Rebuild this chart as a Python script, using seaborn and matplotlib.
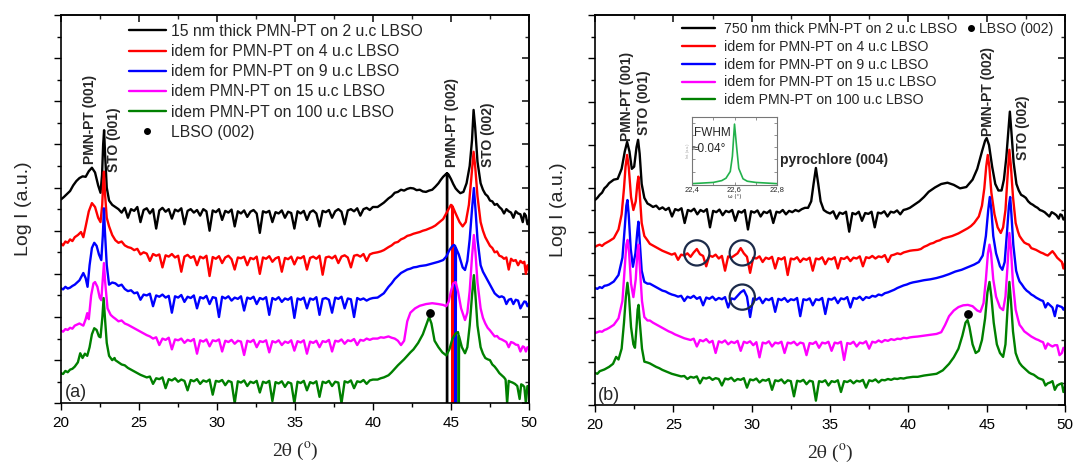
import numpy as np
import pandas as pd
import matplotlib
matplotlib.use("Agg")
import matplotlib.pyplot as plt
from matplotlib.lines import Line2D
import seaborn as sns

# ---------------- DATA (2theta in degrees, log-intensity with vertical offsets, a.u.) -------------
# Panel (a): 15 nm thick films. Each curve = peak-region points + baseline noise read over 23.5-40.0
a_black_head = [(20.0, 4.72), (20.2, 4.78), (20.4, 4.85), (20.6, 4.92), (20.8, 5.05), (21.0, 5.15),
                (21.2, 5.22), (21.4, 5.26), (21.6, 5.25), (21.8, 5.38), (22.0, 5.46), (22.2, 5.35),
                (22.4, 5.05), (22.55, 4.88), (22.65, 5.3), (22.72, 6.0), (22.78, 6.33), (22.84, 5.8),
                (22.95, 5.0), (23.1, 4.7), (23.3, 4.6)]
a_black_noise = [4.55, 4.5, 4.42, 4.53, 4.3, 4.5, 4.46, 4.55, 4.2, 4.48, 4.52, 4.4, 4.5, 4.05, 4.47,
                 4.53, 4.44, 4.5, 4.28, 4.49, 4.45, 4.52, 4.15, 4.46, 4.5, 4.42, 4.48, 4.35, 4.5, 4.45,
                 4.0, 4.47, 4.43, 4.5, 4.25, 4.46, 4.42, 4.49, 4.1, 4.45, 4.4, 4.47, 4.32, 4.44, 4.48,
                 4.4, 3.95, 4.45, 4.42, 4.46, 4.2, 4.43, 4.4, 4.47, 4.3, 4.44, 4.41, 4.05, 4.45, 4.4,
                 4.46, 4.25, 4.43, 4.47, 4.4, 4.1, 4.46, 4.43, 4.48, 4.3, 4.45, 4.5, 4.44, 4.15, 4.47,
                 4.5, 4.45, 4.52, 4.35, 4.5, 4.53, 4.48, 4.55]
a_black_tail = [(40.3, 4.55), (40.5, 4.6), (40.7, 4.65), (41.0, 4.75), (41.2, 4.8), (41.4, 4.88),
                (41.6, 4.9), (41.8, 4.95), (42.0, 4.93), (42.2, 4.97), (42.4, 4.99), (42.6, 4.98),
                (42.8, 4.94), (43.0, 4.95), (43.2, 4.91), (43.4, 4.9), (43.6, 4.93), (43.8, 4.95),
                (44.0, 5.02), (44.2, 5.1), (44.35, 5.18), (44.5, 5.25), (44.7, 5.32), (44.74, 5.33),
                (44.75, -1.0), (44.76, 5.33), (44.85, 5.3), (45.0, 5.2), (45.15, 5.08), (45.3, 4.98),
                (45.45, 4.92), (45.6, 4.87), (45.8, 4.9), (46.0, 5.1), (46.2, 5.5), (46.35, 6.1),
                (46.45, 6.8), (46.55, 6.4), (46.7, 5.6), (46.9, 5.1), (47.05, 4.95), (47.2, 4.85),
                (47.35, 4.8), (47.5, 4.7), (47.65, 4.68), (47.8, 4.6), (47.95, 4.62), (48.1, 4.55),
                (48.25, 4.5), (48.4, 4.4), (48.55, 4.5), (48.7, 4.45), (48.85, 4.42), (49.0, 4.3),
                (49.15, 4.45), (49.3, 4.4), (49.45, 4.38), (49.6, 4.2), (49.7, 4.4), (49.8, 4.35),
                (49.9, 4.15), (50.0, 4.25)]

a_red_head = [(20.0, 3.71), (20.15, 3.66), (20.3, 3.75), (20.45, 3.72), (20.6, 3.8), (20.75, 3.76),
              (20.9, 3.85), (21.1, 3.9), (21.3, 3.97), (21.45, 3.85), (21.6, 4.1), (21.8, 4.45),
              (22.0, 4.64), (22.2, 4.55), (22.4, 4.3), (22.55, 4.2), (22.66, 4.6), (22.72, 5.1),
              (22.77, 5.37), (22.83, 4.9), (22.95, 4.3), (23.1, 4.1), (23.3, 3.9)]
a_red_noise = [3.78, 3.72, 3.75, 3.66, 3.62, 3.6, 3.55, 3.58, 3.45, 3.5, 3.47, 3.3, 3.46, 3.42, 3.45,
               3.15, 3.43, 3.4, 3.46, 3.38, 3.42, 3.05, 3.4, 3.44, 3.37, 3.41, 3.2, 3.4, 3.36, 3.42,
               2.95, 3.39, 3.35, 3.41, 3.25, 3.38, 3.42, 3.34, 3.1, 3.38, 3.36, 3.4, 3.2, 3.37, 3.34,
               3.4, 3.0, 3.38, 3.35, 3.41, 3.28, 3.36, 3.39, 3.05, 3.37, 3.34, 3.4, 3.22, 3.38, 3.36,
               3.41, 3.1, 3.37, 3.4, 3.35, 3.42, 2.98, 3.38, 3.4, 3.36, 3.42, 3.25, 3.4, 3.43, 3.38,
               3.15, 3.42, 3.44, 3.4, 3.46, 3.3, 3.45, 3.48]
a_red_tail = [(40.3, 3.5), (40.5, 3.52), (40.7, 3.55), (41.0, 3.62), (41.2, 3.66), (41.4, 3.72),
              (41.6, 3.74), (41.8, 3.8), (42.0, 3.83), (42.2, 3.88), (42.4, 3.9), (42.6, 3.93),
              (42.8, 3.95), (43.0, 3.97), (43.2, 4.0), (43.4, 4.02), (43.6, 4.05), (43.8, 4.08),
              (44.0, 4.12), (44.2, 4.18), (44.5, 4.27), (44.7, 4.4), (44.85, 4.5), (45.0, 4.6),
              (45.08, 4.58), (45.1, -1.0), (45.12, 4.55), (45.3, 4.4), (45.55, 4.2), (45.75, 4.1),
              (45.95, 4.2), (46.15, 4.6), (46.3, 5.2), (46.45, 5.83), (46.55, 5.5), (46.7, 4.8),
              (46.9, 4.2), (47.05, 4.0), (47.2, 3.85), (47.35, 3.75), (47.5, 3.65), (47.65, 3.6),
              (47.8, 3.5), (47.95, 3.52), (48.1, 3.42), (48.25, 3.4), (48.4, 3.35), (48.55, 3.38),
              (48.7, 3.1), (48.85, 3.35), (49.0, 3.3), (49.15, 3.32), (49.3, 3.2), (49.45, 3.3),
              (49.6, 3.25), (49.7, 3.28), (49.8, 3.0), (49.9, 3.2), (50.0, 3.09)]

a_blue_head = [(20.0, 2.67), (20.15, 2.64), (20.3, 2.7), (20.45, 2.66), (20.6, 2.68), (20.75, 2.72),
               (20.9, 2.75), (21.2, 2.85), (21.45, 3.02), (21.6, 2.9), (21.72, 2.7), (21.85, 3.2),
               (22.0, 3.6), (22.15, 3.72), (22.3, 3.65), (22.45, 3.45), (22.6, 3.32), (22.7, 3.9),
               (22.77, 4.52), (22.83, 4.0), (22.95, 3.2), (23.1, 2.75), (23.3, 2.8)]
a_blue_noise = [2.78, 2.72, 2.75, 2.65, 2.6, 2.62, 2.55, 2.57, 2.4, 2.52, 2.5, 2.54, 2.25, 2.5, 2.47,
                2.52, 2.45, 2.49, 2.1, 2.48, 2.45, 2.51, 2.35, 2.47, 2.44, 2.5, 2.2, 2.46, 2.43, 2.49,
                2.3, 2.46, 2.44, 2.0, 2.47, 2.43, 2.48, 2.38, 2.45, 2.42, 2.48, 2.15, 2.45, 2.42,
                2.47, 2.3, 2.44, 2.41, 2.46, 2.05, 2.44, 2.4, 2.46, 2.35, 2.43, 2.4, 2.46, 1.98, 2.43,
                2.4, 2.45, 2.2, 2.43, 2.4, 2.46, 2.05, 2.42, 2.44, 2.4, 2.1, 2.45, 2.42, 2.47, 2.2,
                2.43, 2.41, 2.0, 2.44, 2.4, 2.43, 2.38, 2.42, 2.44]
a_blue_tail = [(40.3, 2.45), (40.5, 2.5), (40.7, 2.55), (41.0, 2.7), (41.2, 2.78), (41.4, 2.88),
               (41.6, 2.95), (41.8, 3.02), (42.0, 3.06), (42.2, 3.1), (42.4, 3.12), (42.6, 3.15),
               (42.8, 3.16), (43.0, 3.18), (43.2, 3.19), (43.4, 3.2), (43.6, 3.22), (43.8, 3.24),
               (44.0, 3.26), (44.2, 3.28), (44.5, 3.32), (44.7, 3.4), (44.9, 3.55), (45.1, 3.65),
               (45.2, 3.67), (45.28, 3.64), (45.3, -1.0), (45.32, 3.6), (45.5, 3.45), (45.75, 3.15),
               (45.9, 3.09), (46.05, 3.3), (46.2, 3.8), (46.35, 4.5), (46.47, 4.99), (46.57, 4.5),
               (46.7, 3.8), (46.9, 3.2), (47.05, 3.05), (47.2, 2.95), (47.35, 2.85), (47.5, 2.75),
               (47.65, 2.65), (47.8, 2.55), (47.95, 2.5), (48.1, 2.46), (48.25, 2.48), (48.4, 2.45),
               (48.55, 2.3), (48.7, 2.4), (48.85, 2.42), (49.0, 2.3), (49.15, 2.4), (49.3, 2.38),
               (49.45, 2.2), (49.6, 2.3), (49.7, 2.36), (49.8, 2.35), (49.9, 2.25), (50.0, 2.32)]

a_mag_head = [(20.0, 1.69), (20.15, 1.66), (20.3, 1.72), (20.45, 1.7), (20.6, 1.75), (20.75, 1.73),
              (20.9, 1.8), (21.2, 1.85), (21.45, 1.8), (21.6, 1.95), (21.7, 2.09), (21.8, 1.95),
              (21.95, 2.5), (22.1, 2.78), (22.2, 2.81), (22.35, 2.7), (22.5, 2.45), (22.6, 2.39),
              (22.7, 2.9), (22.77, 3.25), (22.85, 2.8), (23.0, 2.2), (23.2, 2.05), (23.35, 2.0)]
a_mag_noise = [1.96, 1.9, 1.92, 1.85, 1.82, 1.78, 1.74, 1.7, 1.66, 1.62, 1.58, 1.55, 1.5, 1.53, 1.35,
               1.5, 1.47, 1.52, 1.25, 1.48, 1.46, 1.5, 1.4, 1.47, 1.44, 1.49, 1.15, 1.46, 1.43, 1.48,
               1.32, 1.46, 1.44, 1.48, 1.2, 1.45, 1.42, 1.47, 1.38, 1.45, 1.43, 1.12, 1.45, 1.42,
               1.47, 1.3, 1.44, 1.42, 1.46, 1.18, 1.44, 1.41, 1.46, 1.35, 1.43, 1.4, 1.46, 1.22,
               1.44, 1.41, 1.46, 1.15, 1.43, 1.4, 1.45, 1.3, 1.44, 1.42, 1.47, 1.2, 1.45, 1.43, 1.48,
               1.38, 1.46, 1.44, 1.49, 1.35, 1.47, 1.45, 1.5, 1.47, 1.5]
a_mag_tail = [(40.3, 1.5), (40.5, 1.53), (40.7, 1.52), (41.0, 1.55), (41.2, 1.52), (41.4, 1.5),
              (41.6, 1.45), (41.8, 1.35), (42.0, 1.45), (42.2, 1.9), (42.4, 2.1), (42.7, 2.2),
              (43.0, 2.26), (43.4, 2.3), (43.8, 2.32), (44.2, 2.3), (44.5, 2.28), (44.7, 2.25),
              (44.85, 2.35), (45.0, 2.6), (45.15, 2.78), (45.3, 2.81), (45.45, 2.6), (45.65, 2.2),
              (45.9, 1.93), (46.05, 2.1), (46.2, 2.6), (46.35, 3.4), (46.47, 3.9), (46.57, 3.5),
              (46.7, 2.8), (46.9, 2.2), (47.05, 1.98), (47.2, 1.85), (47.35, 1.75), (47.5, 1.69),
              (47.65, 1.62), (47.8, 1.55), (47.95, 1.56), (48.1, 1.5), (48.25, 1.48), (48.4, 1.45),
              (48.55, 1.42), (48.7, 1.3), (48.85, 1.42), (49.0, 1.4), (49.15, 1.36), (49.3, 1.35),
              (49.45, 1.2), (49.6, 1.32), (49.7, 1.3), (49.8, 1.2), (49.9, 1.3), (50.0, 1.28)]

a_green_head = [(20.0, 0.7), (20.15, 0.68), (20.3, 0.75), (20.45, 0.72), (20.6, 0.78), (20.75, 0.8),
                (20.9, 0.85), (21.1, 0.95), (21.25, 1.16), (21.4, 1.05), (21.55, 1.15), (21.7, 1.1),
                (21.85, 1.3), (22.0, 1.6), (22.15, 1.74), (22.3, 1.7), (22.45, 1.55), (22.55, 1.53),
                (22.67, 2.0), (22.75, 2.44), (22.83, 2.0), (22.95, 1.4), (23.1, 1.1), (23.3, 1.0),
                (23.45, 1.05)]
a_green_noise = [1.0, 0.95, 0.9, 0.88, 0.82, 0.78, 0.74, 0.7, 0.66, 0.63, 0.6, 0.62, 0.45, 0.58, 0.56,
                 0.6, 0.35, 0.56, 0.53, 0.58, 0.5, 0.55, 0.52, 0.3, 0.54, 0.51, 0.56, 0.45, 0.53, 0.5,
                 0.55, 0.2, 0.52, 0.5, 0.54, 0.42, 0.52, 0.49, 0.0, 0.51, 0.48, 0.53, 0.4, 0.5, 0.47,
                 0.52, 0.25, 0.5, 0.47, 0.52, 0.05, 0.49, 0.46, 0.51, 0.38, 0.49, 0.46, 0.0, 0.5,
                 0.47, 0.52, 0.3, 0.49, 0.46, 0.51, 0.15, 0.5, 0.47, 0.52, 0.4, 0.5, 0.48, 0.0, 0.51,
                 0.48, 0.53, 0.35, 0.51, 0.49, 0.54, 0.45, 0.53, 0.55]
a_green_tail = [(40.3, 0.55), (40.5, 0.58), (40.7, 0.6), (41.0, 0.65), (41.2, 0.72), (41.4, 0.8),
                (41.6, 0.88), (41.8, 0.95), (42.0, 1.02), (42.2, 1.1), (42.4, 1.18), (42.6, 1.25),
                (42.9, 1.4), (43.2, 1.6), (43.45, 1.85), (43.6, 2.0), (43.75, 1.85), (43.95, 1.45),
                (44.2, 1.3), (44.45, 1.18), (44.7, 1.11), (44.9, 1.25), (45.1, 1.5), (45.3, 1.62),
                (45.45, 1.65), (45.48, 1.6), (45.5, -1.0), (45.52, 1.55), (45.7, 1.3), (45.9, 1.16),
                (46.05, 1.3), (46.2, 1.8), (46.35, 2.5), (46.47, 2.97), (46.57, 2.5), (46.7, 1.8),
                (46.9, 1.3), (47.05, 1.15), (47.2, 1.05), (47.35, 1.02), (47.5, 1.0), (47.65, 0.9),
                (47.8, 0.85), (47.95, 0.78), (48.1, 0.7), (48.25, 0.65), (48.4, 0.6), (48.5, 0.55),
                (48.6, 0.0), (48.7, 0.52), (48.8, 0.5), (48.95, 0.48), (49.1, 0.45), (49.25, 0.4),
                (49.4, 0.1), (49.5, 0.44), (49.6, 0.42), (49.7, 0.38), (49.8, 0.0), (49.9, 0.4),
                (50.0, 0.37)]
a_noise_range = (23.5, 40.0)
a_lbso_dot = (43.65, 2.1)

# Panel (b): 750 nm thick films. Baseline noise read over 23.5-40.3
b_black_head = [(20.0, 4.73), (20.15, 4.78), (20.3, 4.85), (20.45, 4.9), (20.6, 5.0), (20.75, 5.05),
                (20.9, 5.12), (21.2, 5.2), (21.45, 5.22), (21.7, 5.45), (21.9, 5.85), (22.05, 6.07),
                (22.2, 5.85), (22.35, 5.45), (22.5, 5.5), (22.65, 5.95), (22.75, 6.12), (22.85, 5.8),
                (22.98, 5.1), (23.15, 4.78), (23.35, 4.65)]
b_black_noise1 = [4.62, 4.57, 4.6, 4.52, 4.56, 4.5, 4.55, 4.35, 4.52, 4.49, 4.54, 4.2, 4.5, 4.47,
                  4.53, 4.4, 4.5, 4.46, 4.52, 4.1, 4.48, 4.45, 4.51, 4.38, 4.48, 4.45, 4.5, 4.25,
                  4.47, 4.44, 4.5, 4.05, 4.47, 4.44, 4.49, 4.35, 4.46, 4.43, 4.49, 4.2, 4.46, 4.44,
                  4.5, 4.4, 4.48, 4.45, 4.5, 4.47, 4.52, 4.55]
b_black_pyro = [(33.6, 4.55), (33.8, 4.7), (33.95, 5.1), (34.1, 5.47), (34.25, 5.1), (34.4, 4.7),
                (34.6, 4.5)]
b_black_noise2 = [4.45, 4.42, 4.47, 4.3, 4.44, 4.41, 4.46, 4.0, 4.43, 4.4, 4.46, 4.25, 4.43, 4.41,
                  4.46, 4.1, 4.44, 4.42, 4.47, 4.35, 4.46, 4.44, 4.49, 4.4, 4.5, 4.52, 4.55, 4.6]
b_black_tail = [(40.5, 4.65), (40.7, 4.7), (41.0, 4.8), (41.3, 4.92), (41.7, 5.02), (42.1, 5.1),
                (42.5, 5.13), (42.9, 5.08), (43.3, 5.0), (43.7, 5.03), (44.1, 5.2), (44.4, 5.45),
                (44.7, 5.85), (44.9, 6.1), (45.0, 6.16), (45.15, 6.0), (45.35, 5.5), (45.55, 5.1),
                (45.75, 4.95), (45.95, 4.95), (46.1, 5.2), (46.25, 5.7), (46.38, 6.3), (46.48, 6.77),
                (46.58, 6.3), (46.72, 5.6), (46.9, 5.1), (47.05, 4.95), (47.2, 4.85), (47.35, 4.82),
                (47.5, 4.78), (47.65, 4.7), (47.8, 4.65), (47.95, 4.62), (48.1, 4.58), (48.25, 4.55),
                (48.4, 4.5), (48.55, 4.48), (48.7, 4.45), (48.85, 4.4), (49.0, 4.35), (49.15, 4.45),
                (49.3, 4.42), (49.45, 4.38), (49.6, 4.3), (49.7, 4.4), (49.8, 4.38), (49.9, 4.28),
                (50.0, 4.32)]

b_red_head = [(20.0, 3.65), (20.15, 3.68), (20.3, 3.7), (20.45, 3.67), (20.6, 3.72), (20.75, 3.75),
              (20.9, 3.78), (21.2, 3.85), (21.5, 4.05), (21.7, 4.4), (21.85, 5.0), (21.95, 5.5),
              (22.05, 5.77), (22.15, 5.5), (22.3, 4.8), (22.45, 4.5), (22.6, 4.7), (22.7, 5.1),
              (22.77, 5.27), (22.85, 4.9), (22.98, 4.2), (23.15, 3.9), (23.35, 3.8)]
b_red_noise = [3.72, 3.68, 3.64, 3.6, 3.56, 3.53, 3.5, 3.47, 3.5, 3.35, 3.47, 3.45, 3.5, 3.42, 3.52,
               3.6, 3.48, 3.44, 3.2, 3.45, 3.42, 3.47, 3.38, 3.44, 3.1, 3.43, 3.4, 3.45, 3.5, 3.62,
               3.5, 3.42, 3.05, 3.4, 3.38, 3.43, 3.3, 3.4, 3.37, 3.42, 3.15, 3.39, 3.36, 3.41, 3.0,
               3.38, 3.36, 3.41, 3.3, 3.38, 3.35, 3.4, 3.1, 3.38, 3.36, 3.41, 3.25, 3.38, 3.36, 3.41,
               3.15, 3.39, 3.37, 3.42, 3.32, 3.4, 3.38, 3.43, 3.2, 3.41, 3.39, 3.44, 3.38, 3.43, 3.41,
               3.46, 3.3, 3.45, 3.47, 3.5, 3.48, 3.52, 3.54, 3.56, 3.57]
b_red_tail = [(40.6, 3.58), (40.8, 3.6), (41.0, 3.65), (41.2, 3.68), (41.4, 3.72), (41.6, 3.74),
              (41.8, 3.78), (42.0, 3.8), (42.2, 3.84), (42.4, 3.86), (42.6, 3.88), (42.8, 3.9),
              (43.0, 3.93), (43.2, 3.96), (43.4, 4.0), (43.6, 4.04), (43.8, 4.08), (44.0, 4.13),
              (44.2, 4.2), (44.5, 4.35), (44.7, 4.6), (44.85, 5.0), (44.97, 5.5), (45.07, 5.77),
              (45.17, 5.5), (45.3, 4.9), (45.5, 4.4), (45.7, 4.1), (45.9, 3.97), (46.05, 4.1),
              (46.2, 4.5), (46.32, 5.2), (46.45, 5.89), (46.55, 5.5), (46.68, 4.8), (46.85, 4.2),
              (47.0, 4.0), (47.1, 3.9), (47.25, 3.82), (47.4, 3.75), (47.55, 3.72), (47.7, 3.7),
              (47.85, 3.62), (48.0, 3.6), (48.15, 3.58), (48.3, 3.55), (48.45, 3.52), (48.6, 3.5),
              (48.75, 3.47), (48.9, 3.45), (49.05, 3.5), (49.2, 3.55), (49.35, 3.48), (49.5, 3.4),
              (49.65, 3.35), (49.8, 3.3), (49.9, 3.15), (50.0, 3.28)]

b_blue_head = [(20.0, 2.7), (20.15, 2.68), (20.3, 2.72), (20.45, 2.7), (20.6, 2.75), (20.75, 2.76),
               (20.9, 2.78), (21.2, 2.85), (21.5, 3.0), (21.75, 3.4), (21.9, 4.1), (22.0, 4.6),
               (22.07, 4.73), (22.15, 4.4), (22.28, 3.6), (22.42, 3.19), (22.58, 3.5), (22.7, 4.0),
               (22.77, 4.23), (22.85, 3.8), (22.98, 3.1), (23.15, 2.84), (23.35, 2.8)]
b_blue_noise = [2.8, 2.76, 2.72, 2.68, 2.64, 2.62, 2.58, 2.55, 2.53, 2.5, 2.52, 2.4, 2.5, 2.47, 2.52,
                2.45, 2.49, 2.3, 2.48, 2.45, 2.5, 2.42, 2.47, 2.44, 2.49, 2.25, 2.46, 2.44, 2.52, 2.6,
                2.65, 2.5, 2.03, 2.46, 2.43, 2.48, 2.35, 2.45, 2.42, 2.47, 2.15, 2.45, 2.42, 2.47,
                2.38, 2.44, 2.42, 2.47, 2.05, 2.44, 2.42, 2.46, 2.3, 2.44, 2.42, 2.47, 2.1, 2.45,
                2.43, 2.48, 2.35, 2.46, 2.44, 2.49, 2.25, 2.47, 2.45, 2.5, 2.42, 2.49, 2.47, 2.52,
                2.5, 2.55, 2.53, 2.58, 2.6, 2.63, 2.66, 2.7, 2.73, 2.76, 2.78, 2.81, 2.83]
b_blue_tail = [(40.6, 2.85), (41.0, 2.88), (41.4, 2.9), (41.8, 2.93), (42.2, 2.97), (42.6, 3.02),
               (43.0, 3.08), (43.4, 3.12), (43.8, 3.18), (44.2, 3.24), (44.5, 3.3), (44.75, 3.45),
               (44.95, 3.9), (45.1, 4.5), (45.2, 4.8), (45.3, 4.5), (45.42, 3.9), (45.6, 3.5),
               (45.85, 3.2), (46.0, 3.12), (46.15, 3.3), (46.3, 4.0), (46.42, 4.6), (46.5, 4.8),
               (46.58, 4.4), (46.7, 3.7), (46.88, 3.1), (47.0, 2.95), (47.1, 2.85), (47.25, 2.78),
               (47.4, 2.7), (47.55, 2.64), (47.7, 2.6), (47.85, 2.55), (48.0, 2.52), (48.15, 2.48),
               (48.3, 2.45), (48.45, 2.42), (48.6, 2.4), (48.75, 2.25), (48.9, 2.35), (49.05, 2.3),
               (49.2, 2.25), (49.35, 2.05), (49.5, 2.3), (49.65, 2.28), (49.8, 2.26), (49.9, 2.2),
               (50.0, 2.26)]

b_mag_head = [(20.0, 1.66), (20.15, 1.68), (20.3, 1.7), (20.45, 1.69), (20.6, 1.73), (20.75, 1.75),
              (20.9, 1.78), (21.2, 1.85), (21.5, 2.0), (21.75, 2.4), (21.9, 3.2), (22.0, 3.7),
              (22.08, 3.81), (22.18, 3.5), (22.3, 2.8), (22.45, 2.49), (22.6, 2.9), (22.7, 3.5),
              (22.77, 3.7), (22.86, 3.2), (23.0, 2.4), (23.15, 2.03), (23.35, 1.95)]
b_mag_noise = [1.95, 1.9, 1.86, 1.82, 1.78, 1.74, 1.7, 1.67, 1.63, 1.6, 1.57, 1.54, 1.52, 1.5, 1.53,
               1.35, 1.5, 1.47, 1.52, 1.44, 1.48, 1.2, 1.47, 1.44, 1.49, 1.4, 1.46, 1.43, 1.48, 1.25,
               1.46, 1.43, 1.47, 1.38, 1.45, 1.1, 1.44, 1.42, 1.47, 1.35, 1.44, 1.42, 1.46, 1.2,
               1.44, 1.42, 1.46, 1.38, 1.44, 1.42, 1.15, 1.43, 1.41, 1.46, 1.32, 1.44, 1.42, 1.46,
               1.25, 1.44, 1.42, 1.46, 1.04, 1.43, 1.41, 1.46, 1.35, 1.44, 1.42, 1.47, 1.3, 1.46,
               1.44, 1.49, 1.45, 1.5, 1.48, 1.52, 1.5, 1.53, 1.52, 1.55, 1.54, 1.56, 1.57]
b_mag_tail = [(40.6, 1.58), (41.0, 1.6), (41.4, 1.62), (41.8, 1.64), (42.1, 1.68), (42.35, 1.85),
              (42.6, 2.05), (42.9, 2.18), (43.2, 2.26), (43.5, 2.3), (43.8, 2.31), (44.1, 2.28),
              (44.4, 2.18), (44.6, 2.15), (44.8, 2.35), (44.95, 2.9), (45.08, 3.5), (45.18, 3.7),
              (45.28, 3.5), (45.42, 2.9), (45.6, 2.5), (45.85, 2.25), (46.05, 2.19), (46.2, 2.5),
              (46.33, 3.2), (46.45, 3.97), (46.55, 3.6), (46.68, 2.8), (46.85, 2.2), (47.0, 1.98),
              (47.1, 1.85), (47.25, 1.78), (47.4, 1.7), (47.55, 1.66), (47.7, 1.62), (47.85, 1.58),
              (48.0, 1.55), (48.15, 1.52), (48.3, 1.5), (48.45, 1.47), (48.6, 1.45), (48.75, 1.3),
              (48.9, 1.42), (49.05, 1.38), (49.2, 1.35), (49.35, 1.38), (49.5, 1.38), (49.65, 1.15),
              (49.8, 1.2), (49.9, 1.32), (50.0, 1.27)]

b_green_head = [(20.0, 0.74), (20.15, 0.72), (20.3, 0.78), (20.45, 0.8), (20.6, 0.82), (20.75, 0.85),
                (20.9, 0.88), (21.15, 0.95), (21.35, 1.11), (21.5, 1.05), (21.7, 1.3), (21.85, 1.9),
                (21.97, 2.5), (22.07, 2.82), (22.17, 2.5), (22.3, 1.8), (22.45, 1.4), (22.55, 1.32),
                (22.65, 1.8), (22.72, 2.2), (22.78, 2.31), (22.86, 1.9), (23.0, 1.3), (23.15, 1.0),
                (23.35, 0.98)]
b_green_noise = [0.96, 0.92, 0.88, 0.85, 0.81, 0.78, 0.75, 0.72, 0.7, 0.68, 0.66, 0.67, 0.6, 0.65,
                 0.63, 0.66, 0.5, 0.63, 0.61, 0.64, 0.58, 0.62, 0.6, 0.45, 0.61, 0.59, 0.63, 0.55,
                 0.6, 0.58, 0.62, 0.4, 0.59, 0.57, 0.61, 0.52, 0.58, 0.56, 0.6, 0.35, 0.57, 0.55,
                 0.59, 0.5, 0.57, 0.55, 0.2, 0.56, 0.54, 0.58, 0.48, 0.56, 0.54, 0.1, 0.55, 0.53,
                 0.57, 0.45, 0.55, 0.53, 0.57, 0.3, 0.55, 0.53, 0.57, 0.5, 0.56, 0.54, 0.58, 0.4,
                 0.57, 0.55, 0.59, 0.52, 0.58, 0.57, 0.6, 0.58, 0.61, 0.6, 0.62, 0.61, 0.63, 0.64,
                 0.65]
b_green_tail = [(40.6, 0.65), (41.0, 0.68), (41.4, 0.7), (41.8, 0.72), (42.2, 0.8), (42.6, 0.95),
                (42.9, 1.1), (43.2, 1.3), (43.45, 1.6), (43.65, 1.9), (43.78, 1.96), (43.9, 1.8),
                (44.1, 1.4), (44.3, 1.2), (44.5, 1.25), (44.7, 1.5), (44.9, 2.0), (45.05, 2.6),
                (45.18, 2.84), (45.3, 2.5), (45.45, 1.9), (45.65, 1.4), (45.85, 1.2), (46.05, 1.11),
                (46.2, 1.4), (46.33, 2.2), (46.45, 2.84), (46.55, 2.4), (46.68, 1.7), (46.85, 1.2),
                (47.0, 1.05), (47.1, 0.97), (47.25, 0.9), (47.4, 0.85), (47.55, 0.8), (47.7, 0.75),
                (47.85, 0.72), (48.0, 0.7), (48.15, 0.66), (48.3, 0.62), (48.45, 0.6), (48.6, 0.58),
                (48.75, 0.45), (48.9, 0.5), (49.05, 0.52), (49.2, 0.55), (49.35, 0.35), (49.5, 0.45),
                (49.65, 0.48), (49.8, 0.5), (49.9, 0.3), (50.0, 0.42)]
b_noise_range = (23.5, 40.3)
b_lbso_dot = (43.8, 2.1)
b_circles_x = [26.5, 29.4, 29.4]
b_circles_y = [3.51, 3.51, 2.49]

# Inset (omega rocking curve)
inset_omega = [22.40, 22.45, 22.50, 22.54, 22.56, 22.58, 22.59, 22.60, 22.61, 22.62, 22.64, 22.66,
               22.70, 22.75, 22.80]
inset_int = [0.0, 0.01, 0.02, 0.05, 0.09, 0.2, 0.45, 0.98, 0.6, 0.25, 0.08, 0.04, 0.02, 0.01, 0.0]
inset_ticks = [22.4, 22.6, 22.8]
inset_ticklabels = ["22,4", "22,6", "22,8"]

colors = ["#000000", "#ff0000", "#0000ff", "#ff00ff", "#008000"]
labels_a = ["15 nm thick PMN-PT on 2 u.c LBSO", "idem for PMN-PT on 4 u.c LBSO",
            "idem for PMN-PT on 9 u.c LBSO", "idem PMN-PT on 15 u.c LBSO",
            "idem PMN-PT on 100 u.c LBSO"]
labels_b = ["750 nm thick PMN-PT on 2 u.c LBSO", "idem for PMN-PT on 4 u.c LBSO",
            "idem for PMN-PT on 9 u.c LBSO", "idem for PMN-PT on 15 u.c LBSO",
            "idem PMN-PT on 100 u.c LBSO"]
xticks = [20, 25, 30, 35, 40, 45, 50]


def build(segments):
    """segments: list of ('pts', [(x,y),...]) or ('noise', values, (x0, x1))"""
    xs, ys = [], []
    for seg in segments:
        if seg[0] == "pts":
            xs += [p[0] for p in seg[1]]
            ys += [p[1] for p in seg[1]]
        else:
            vals, (x0, x1) = seg[1], seg[2]
            xs += list(np.linspace(x0, x1, len(vals)))
            ys += list(vals)
    df = pd.DataFrame({"tt": xs, "I": ys})
    return df.sort_values("tt", kind="stable").reset_index(drop=True)


curves_a = [
    build([("pts", a_black_head), ("noise", a_black_noise, a_noise_range), ("pts", a_black_tail)]),
    build([("pts", a_red_head), ("noise", a_red_noise, a_noise_range), ("pts", a_red_tail)]),
    build([("pts", a_blue_head), ("noise", a_blue_noise, a_noise_range), ("pts", a_blue_tail)]),
    build([("pts", a_mag_head), ("noise", a_mag_noise, a_noise_range), ("pts", a_mag_tail)]),
    build([("pts", a_green_head), ("noise", a_green_noise, a_noise_range), ("pts", a_green_tail)]),
]
curves_b = [
    build([("pts", b_black_head), ("noise", b_black_noise1, (23.5, 33.4)), ("pts", b_black_pyro),
           ("noise", b_black_noise2, (34.8, 40.3)), ("pts", b_black_tail)]),
    build([("pts", b_red_head), ("noise", b_red_noise, b_noise_range), ("pts", b_red_tail)]),
    build([("pts", b_blue_head), ("noise", b_blue_noise, b_noise_range), ("pts", b_blue_tail)]),
    build([("pts", b_mag_head), ("noise", b_mag_noise, b_noise_range), ("pts", b_mag_tail)]),
    build([("pts", b_green_head), ("noise", b_green_noise, b_noise_range), ("pts", b_green_tail)]),
]

# ---------------- STYLE -------------
sns.set_theme(style="ticks")
plt.rcParams["font.family"] = ["Liberation Sans", "DejaVu Sans"]
plt.rcParams["mathtext.fontset"] = "stix"
plt.rcParams["axes.linewidth"] = 1.2

fig = plt.figure(figsize=(10.74, 4.69), dpi=100)
ax_a = fig.add_axes([60.7 / 1074, 1 - 403.3 / 469, 468.3 / 1074, 388.3 / 469])
ax_b = fig.add_axes([595 / 1074, 1 - 405 / 469, 470 / 1074, 390 / 469])


def style_axes(ax):
    ax.set_xlim(20, 50)
    ax.set_ylim(0, 9)
    ax.set_xticks(xticks)
    ax.set_xticks(np.arange(20, 50.1, 2.5), minor=True)
    ax.set_yticks(np.arange(0, 9.1, 1))
    ax.set_yticks(np.arange(0, 9.1, 0.5), minor=True)
    ax.set_yticklabels([])
    for sp in ax.spines.values():
        sp.set_visible(True)
        sp.set_color("black")
        sp.set_linewidth(1.2)
    ax.tick_params(axis="both", which="both", color="black", width=1.0)
    ax.tick_params(axis="x", which="both", direction="out", bottom=True, top=False)
    ax.tick_params(axis="y", which="both", direction="out", left=True, right=False)
    ax.tick_params(which="major", length=5)
    ax.tick_params(which="minor", length=3)
    ax.tick_params(axis="x", labelsize=11, pad=4, labelcolor="black")
    sec = ax.secondary_xaxis("top")
    sec.set_xticks(xticks)
    sec.set_xticks(np.arange(20, 50.1, 2.5), minor=True)
    sec.tick_params(which="both", direction="in", labeltop=False)
    sec.tick_params(which="major", length=5)
    sec.tick_params(which="minor", length=3)
    sec.spines["top"].set_linewidth(1.2)
    sec2 = ax.secondary_yaxis("right")
    sec2.set_yticks(np.arange(0, 9.1, 1))
    sec2.set_yticks(np.arange(0, 9.1, 0.5), minor=True)
    sec2.tick_params(which="both", direction="in", labelright=False)
    sec2.tick_params(which="major", length=5)
    sec2.tick_params(which="minor", length=3)
    ax.set_xlabel(r"2$\mathrm{\theta}$ ($^{\mathrm{o}}$)", fontsize=14, family="Liberation Serif",
                  labelpad=8)
    ax.set_ylabel("Log I (a.u.)", fontsize=14, labelpad=12)
    ax.grid(False)


for ax, curves in ((ax_a, curves_a), (ax_b, curves_b)):
    for df, c in zip(curves, colors):
        sns.lineplot(data=df, x="tt", y="I", ax=ax, color=c, lw=1.7, sort=False,
                     estimator=None, legend=False)
    style_axes(ax)

# LBSO (002) dots
ax_a.scatter([a_lbso_dot[0]], [a_lbso_dot[1]], s=28, color="black", zorder=5)
ax_b.scatter([b_lbso_dot[0]], [b_lbso_dot[1]], s=28, color="black", zorder=5)

# circles in (b)
ax_b.scatter(b_circles_x, b_circles_y, s=330, facecolors="none", edgecolors="#1c2b4a",
             linewidths=1.6, zorder=6)

# peak labels
bold = dict(fontsize=10, fontweight="bold", rotation=90, ha="center", va="bottom")
ax_a.text(21.85, 5.55, "PMN-PT (001)", **bold)
ax_a.text(23.42, 5.35, "STO (001)", **bold)
ax_a.text(45.04, 5.47, "PMN-PT (002)", **bold)
ax_a.text(47.35, 5.47, "STO (002)", **bold)
ax_b.text(22.06, 6.1, "PMN-PT (001)", **bold)
ax_b.text(23.1, 6.24, "STO (001)", **bold)
ax_b.text(45.08, 6.2, "PMN-PT (002)", **bold)
ax_b.text(47.29, 5.66, "STO (002)", **bold)
ax_b.text(31.8, 5.66, "pyrochlore (004)", fontsize=10, fontweight="bold", ha="left", va="center")

ax_a.text(0.008, 0.028, "(a)", transform=ax_a.transAxes, fontsize=13, ha="left", va="center")
ax_b.text(0.006, 0.025, "(b)", transform=ax_b.transAxes, fontsize=13, ha="left", va="center")

# legends
h = [Line2D([], [], color=c, lw=1.7) for c in colors]
dot = Line2D([], [], ls="none", marker="o", color="black", markersize=4)
ax_a.legend(h + [dot], labels_a + ["LBSO (002)"], loc="upper left", bbox_to_anchor=(0.145, 0.977),
            frameon=False, fontsize=11.3, handlelength=2.4, handletextpad=0.3, labelspacing=0.33,
            borderpad=0, borderaxespad=0)
leg1 = ax_b.legend(h, labels_b, loc="upper left", bbox_to_anchor=(0.186, 0.982), frameon=False,
                   fontsize=10.2, handlelength=2.3, handletextpad=0.6, labelspacing=0.27,
                   borderpad=0, borderaxespad=0)
ax_b.add_artist(leg1)
ax_b.legend([dot], ["LBSO (002)"], loc="upper left", bbox_to_anchor=(0.793, 0.982), frameon=False,
            fontsize=10.2, handlelength=0.5, handletextpad=0.3, borderpad=0, borderaxespad=0)

# inset
ins = ax_b.inset_axes([26.19, 5.08, 5.43, 1.57], transform=ax_b.transData)
sns.lineplot(x=inset_omega, y=inset_int, ax=ins, color="#22b14c", lw=1.2, estimator=None, sort=False)
ins.set_xlim(22.4, 22.8)
ins.set_ylim(-0.02, 1.1)
ins.set_xticks(inset_ticks)
ins.set_xticklabels(inset_ticklabels)
ins.set_xticks([22.5, 22.7], minor=True)
ins.set_yticks([0.2, 0.4, 0.6, 0.8, 1.0])
ins.set_yticklabels([])
ins.tick_params(which="both", direction="in", length=2, width=0.5, labelsize=5.5, pad=1,
                color="#666666", top=True, right=True)
for sp in ins.spines.values():
    sp.set_color("#777777")
    sp.set_linewidth(0.8)
ins.set_xlabel("ω (°)", fontsize=4, labelpad=0.5, family=["DejaVu Sans"])
ins.set_ylabel("Int. (a.u.)", fontsize=2.5, labelpad=0.5, color="#999999")
ins.text(0.02, 0.76, "FWHM", transform=ins.transAxes, fontsize=8.5, ha="left", va="center")
ins.text(0.0, 0.53, "≈0.04°", transform=ins.transAxes, fontsize=8.5, ha="left", va="center")
ins.grid(False)

fig.savefig("out.png", dpi=100)
